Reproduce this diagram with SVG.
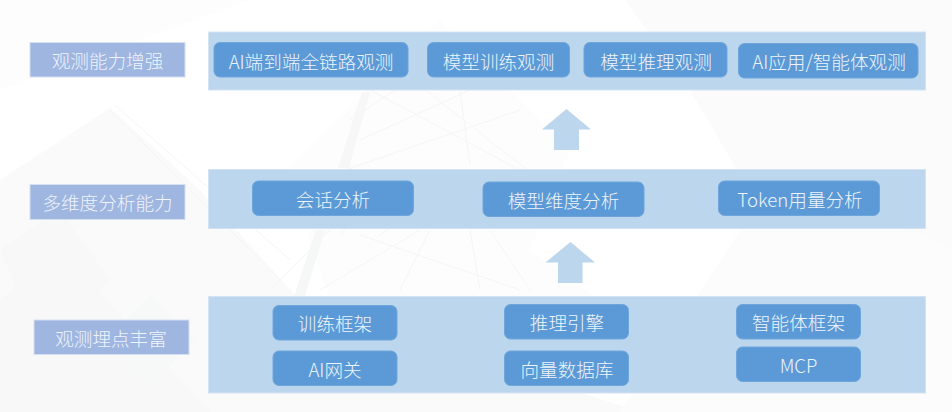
<svg xmlns="http://www.w3.org/2000/svg" width="952" height="412" viewBox="0 0 952 412">
<defs>
<style>
.ln{fill:none;stroke:#f4f5f5;stroke-width:1}
.panel{fill:#bcd6ee;stroke:#d3e3f4;stroke-width:1}
.label{fill:#9fb6e0;stroke:#d5e0f3;stroke-width:1}
.box{fill:#5b9ad6;stroke:#6ea6dc;stroke-width:1}
.arrow{fill:#bcd6ee}
text{font-family:"Noto Sans CJK SC","Open Sans","Liberation Sans",sans-serif;font-size:18.6px;font-weight:300;fill:#eef4fb;text-anchor:middle;dominant-baseline:central}
</style>
</defs>
<g id="background">
<rect width="952" height="412" fill="#ffffff"/>
<polygon points="0,90 250,0 0,0" fill="#fdfdfd"/>
<polygon points="0,412 0,180 110,108 200,190 300,300 640,412" fill="#fafafa"/>
<polygon points="0,412 0,300 60,250 210,412" fill="#f8f8f8"/>
<polygon points="150,295 195,340 150,385 105,340" fill="#f7f8f8"/>
<polygon points="0,250 60,210 110,280 40,340" fill="#f8f8f9"/>
<polygon points="285,170 440,20 570,150 530,250 600,300 330,300" fill="#fdfdfd"/>
<polygon points="625,0 952,0 952,412 880,412 690,90" fill="#fbfbfc"/>
<polygon points="620,412 952,412 952,250 780,170" fill="#fcfcfc"/>
<path class="ln" d="M350,120 L440,60 M360,140 L470,90 M345,170 L520,110 M370,90 L520,170 M400,70 L540,180 M460,90 L470,165 M340,235 L400,170 M380,235 L470,170 M270,290 L330,230 M320,290 L420,230 M400,290 L430,230 M480,290 L470,230 M530,290 L490,230 M360,235 L520,290"/>
<polygon points="338,168 362,92 370,92 349,168" fill="#f7f7f8"/>
<polygon points="294,296 316,230 325,230 305,296" fill="#f6f7f7"/>
<path class="ln" d="M110,110 L280,280 M115,105 L290,260"/>
</g>
<g id="connectors">
<polygon id="arrow-top" class="arrow" points="566.5,109 591,129.5 579,129.5 579,150 554,150 554,129.5 542,129.5"/>
<polygon id="arrow-bottom" class="arrow" points="570.5,242 595,262.5 582.5,262.5 582.5,283 558,283 558,262.5 545.5,262.5"/>
</g>
<g id="panel-top"><rect class="panel" x="208.500" y="32" width="717" height="58"/></g>
<g id="panel-middle"><rect class="panel" x="208.500" y="169.500" width="717" height="59"/></g>
<g id="panel-bottom"><rect class="panel" x="208.500" y="296.500" width="717" height="96.500"/></g>
<g id="label-top"><rect class="label" x="30" y="42.500" width="155" height="34.500"/><text x="107.500" y="59.500">观测能力增强</text></g>
<g id="label-middle"><rect class="label" x="30" y="184.500" width="155" height="35"/><text x="107.500" y="201.500">多维度分析能力</text></g>
<g id="label-bottom"><rect class="label" x="34" y="320" width="155" height="34.500"/><text x="111" y="337.500">观测埋点丰富</text></g>
<g id="node-e2e"><rect class="box" x="214" y="42.500" width="194" height="34.500" rx="6"/><text x="311" y="60">AI端到端全链路观测</text></g>
<g id="node-train-obs"><rect class="box" x="427.500" y="42.500" width="142" height="34.500" rx="6"/><text x="498.500" y="60">模型训练观测</text></g>
<g id="node-infer-obs"><rect class="box" x="584" y="42.500" width="143" height="34.500" rx="6"/><text x="656" y="60">模型推理观测</text></g>
<g id="node-app-obs"><rect class="box" x="738.500" y="43.500" width="179.500" height="34.500" rx="6"/><text x="829" y="60.500">AI应用/智能体观测</text></g>
<g id="node-session"><rect class="box" x="252.500" y="181" width="161" height="34.500" rx="6"/><text x="333" y="198.500">会话分析</text></g>
<g id="node-model-dim"><rect class="box" x="483" y="182" width="161" height="34.500" rx="6"/><text x="563.500" y="199">模型维度分析</text></g>
<g id="node-token"><rect class="box" x="718.500" y="181" width="161" height="34.500" rx="6"/><text x="800" y="198.500">Token用量分析</text></g>
<g id="node-train-fw"><rect class="box" x="273" y="305.500" width="124" height="34.500" rx="6"/><text x="335" y="322">训练框架</text></g>
<g id="node-gateway"><rect class="box" x="273" y="351" width="124" height="34.500" rx="6"/><text x="335" y="368">AI网关</text></g>
<g id="node-engine"><rect class="box" x="504.500" y="304.500" width="124" height="34.500" rx="6"/><text x="567" y="321.500">推理引擎</text></g>
<g id="node-vector"><rect class="box" x="504.500" y="351" width="124" height="34.500" rx="6"/><text x="567" y="368.500">向量数据库</text></g>
<g id="node-agent-fw"><rect class="box" x="736.500" y="304.500" width="124" height="34.500" rx="6"/><text x="798.500" y="321.500">智能体框架</text></g>
<g id="node-mcp"><rect class="box" x="736.500" y="347" width="124" height="34.500" rx="6"/><text x="798.500" y="364">MCP</text></g>
</svg>
